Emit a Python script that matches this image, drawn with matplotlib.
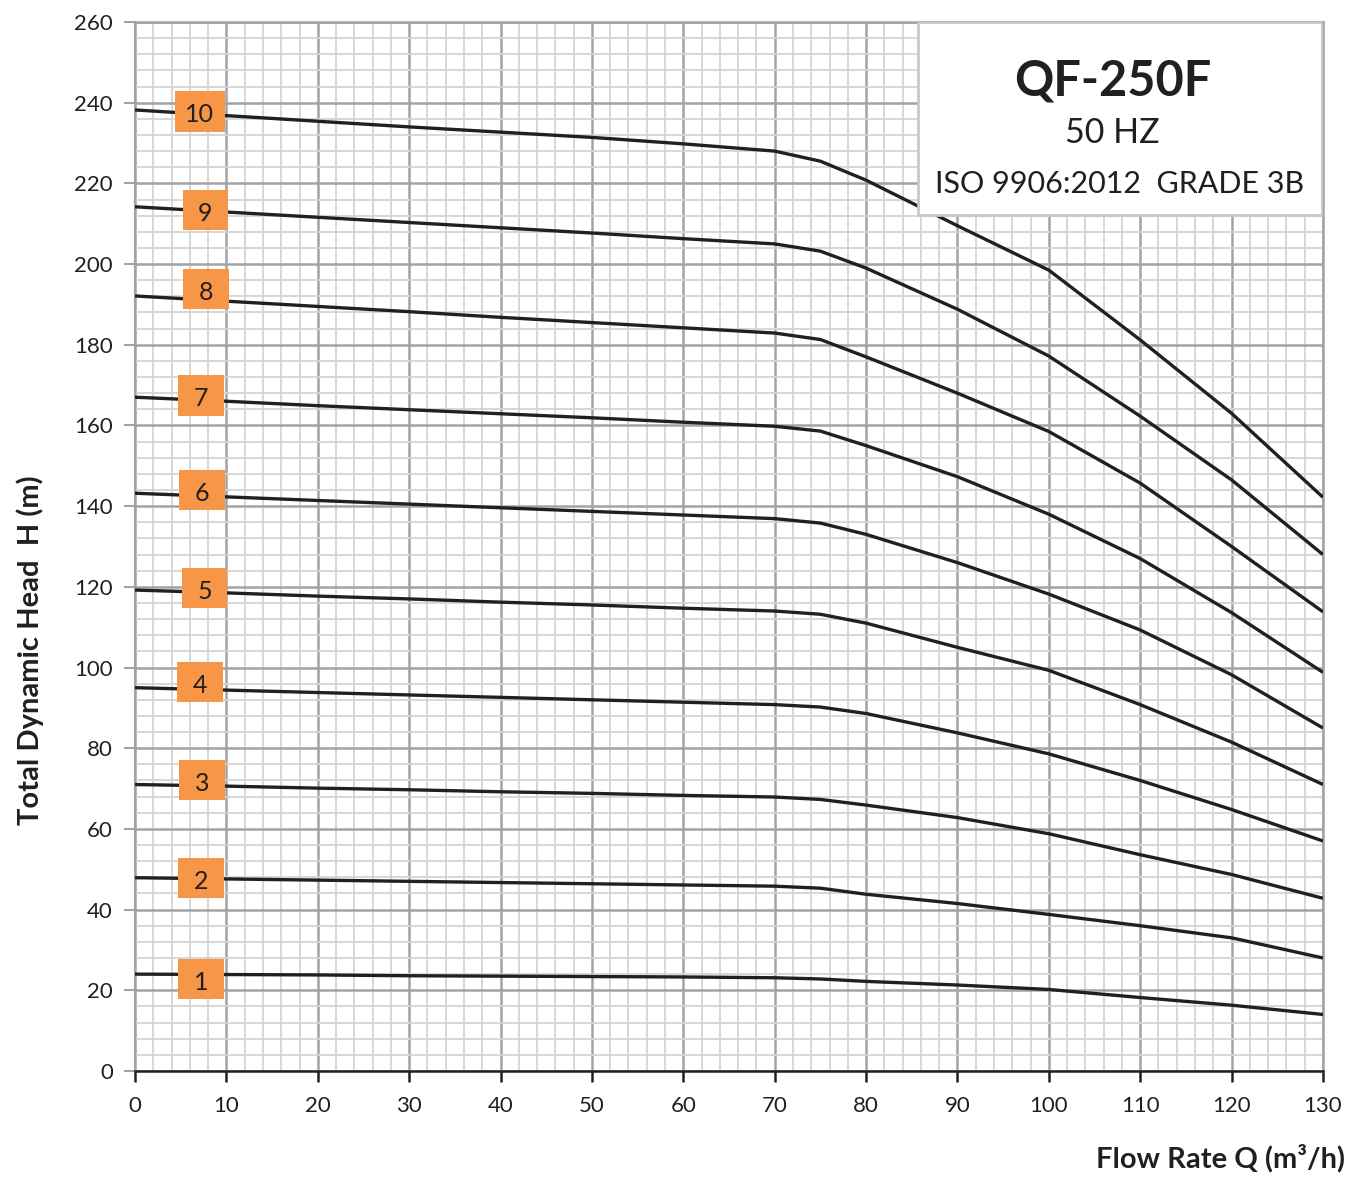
import matplotlib
matplotlib.use("Agg")
import matplotlib.pyplot as plt
from matplotlib.ticker import MultipleLocator
from matplotlib.patches import Rectangle

plt.rcParams['font.family'] = ['Lato', 'DejaVu Sans']

Q = [0, 10, 20, 30, 40, 50, 60, 70, 75, 80, 90, 100, 110, 120, 130]
H1 = [24.0, 23.9, 23.8, 23.6, 23.5, 23.4, 23.3, 23.1, 22.8, 22.2, 21.3, 20.2, 18.2, 16.3, 14.0]
H2 = [47.9, 47.6, 47.3, 47.0, 46.7, 46.4, 46.1, 45.8, 45.3, 43.8, 41.5, 38.8, 36.0, 33.0, 28.0]
H3 = [71.0, 70.6, 70.1, 69.7, 69.2, 68.8, 68.3, 67.9, 67.3, 65.9, 62.8, 58.8, 53.6, 48.7, 42.8]
H4 = [95.0, 94.4, 93.8, 93.2, 92.6, 92.0, 91.4, 90.8, 90.2, 88.6, 83.8, 78.6, 72.0, 64.8, 57.0]
H5 = [119.2, 118.5, 117.7, 117.0, 116.2, 115.5, 114.7, 114.0, 113.2, 111.0, 105.0, 99.3, 90.8, 81.5, 71.0]
H6 = [143.2, 142.3, 141.4, 140.5, 139.6, 138.7, 137.8, 136.9, 135.8, 133.0, 126.0, 118.2, 109.3, 98.2, 85.0]
H7 = [167.0, 166.0, 164.9, 163.9, 162.9, 161.9, 160.8, 159.8, 158.6, 155.0, 147.3, 138.0, 127.0, 113.6, 98.8]
H8 = [192.1, 190.8, 189.5, 188.2, 186.8, 185.5, 184.2, 182.9, 181.3, 177.0, 168.0, 158.5, 145.7, 130.0, 113.8]
H9 = [214.2, 212.9, 211.6, 210.3, 209.0, 207.7, 206.3, 205.0, 203.2, 199.0, 188.8, 177.2, 162.3, 146.5, 128.0]
H10 = [238.2, 236.8, 235.4, 234.0, 232.7, 231.4, 229.8, 228.0, 225.5, 220.8, 209.5, 198.5, 181.2, 163.0, 142.2]
curves = [H1, H2, H3, H4, H5, H6, H7, H8, H9, H10]

stage_labels = ['1', '2', '3', '4', '5', '6', '7', '8', '9', '10']
label_q = [7.2, 7.2, 7.3, 7.1, 7.6, 7.3, 7.2, 7.8, 7.7, 7.1]
label_h = [22.8, 47.8, 72.1, 96.4, 119.7, 144.0, 167.5, 193.8, 213.4, 237.9]

x_ticks = list(range(0, 131, 10))
y_ticks = list(range(0, 261, 20))

title_main = "QF-250F"
title_freq = "50 HZ"
title_std = "ISO 9906:2012  GRADE 3B"

fig = plt.figure(figsize=(13.49, 11.77), dpi=100)
ax = fig.add_axes([0.1001, 0.0901, 0.8806, 0.8912])
ax.set_xlim(0, 130)
ax.set_ylim(0, 260)
ax.set_xticks(x_ticks)
ax.set_yticks(y_ticks)
ax.xaxis.set_minor_locator(MultipleLocator(2))
ax.yaxis.set_minor_locator(MultipleLocator(4))
ax.grid(which='minor', color='#d4d4d4', linewidth=1.3, zorder=0)
ax.grid(which='major', color='#a3a3a6', linewidth=1.8, zorder=0)
ax.set_axisbelow(True)

for s in ['top', 'right']:
    ax.spines[s].set_color('#a3a3a6')
    ax.spines[s].set_linewidth(1.8)
ax.spines['left'].set_color('#a3a3a6')
ax.spines['left'].set_linewidth(1.5)
ax.spines['bottom'].set_color('#231f20')
ax.spines['bottom'].set_linewidth(1.8)

ax.tick_params(axis='x', which='major', direction='out', length=8, width=1.8,
               color='#231f20', labelsize=16, labelcolor='#231f20', pad=10)
ax.tick_params(axis='y', which='major', direction='out', length=8, width=1.5,
               color='#a3a3a6', labelsize=16, labelcolor='#231f20', pad=8)
ax.tick_params(which='minor', length=0)

for H in curves:
    ax.plot(Q, H, color='#231f20', linewidth=2.4, zorder=3, solid_capstyle='butt')

# label boxes: fixed size in data units (~46 x 41 px)
bw, bh = 5.0, 10.1
for lab, q, h in zip(stage_labels, label_q, label_h):
    w = bw + (0.4 if len(lab) > 1 else 0)
    ax.add_patch(Rectangle((q - w / 2, h - bh / 2), w, bh, facecolor='#f79646',
                           edgecolor='none', zorder=4))
    ax.text(q, h - 0.8, lab, fontsize=18, color='#231f20', ha='center', va='center', zorder=5)

box = Rectangle((0.659, 0.816), 0.3405, 0.184, transform=ax.transAxes,
                facecolor='white', edgecolor='#c8c8c8', linewidth=2, zorder=6)
ax.add_patch(box)
ax.text(0.823, 0.944, title_main, transform=ax.transAxes, fontsize=35, fontweight='bold',
        color='#231f20', ha='center', va='center', zorder=7)
ax.text(0.823, 0.894, title_freq, transform=ax.transAxes, fontsize=24.5,
        color='#231f20', ha='center', va='center', zorder=7)
ax.text(0.829, 0.846, title_std, transform=ax.transAxes, fontsize=22,
        color='#231f20', ha='center', va='center', zorder=7)

fig.text(30 / 1349, 1 - 650 / 1177, "Total Dynamic Head  H (m)", rotation=90, fontsize=21,
         fontweight='bold', color='#231f20', ha='center', va='center')
fig.text(1345 / 1349, 1 - 1158 / 1177, "Flow Rate Q (m³/h)", fontsize=21,
         fontweight='bold', color='#231f20', ha='right', va='center')

fig.savefig("out.png", dpi=100)
